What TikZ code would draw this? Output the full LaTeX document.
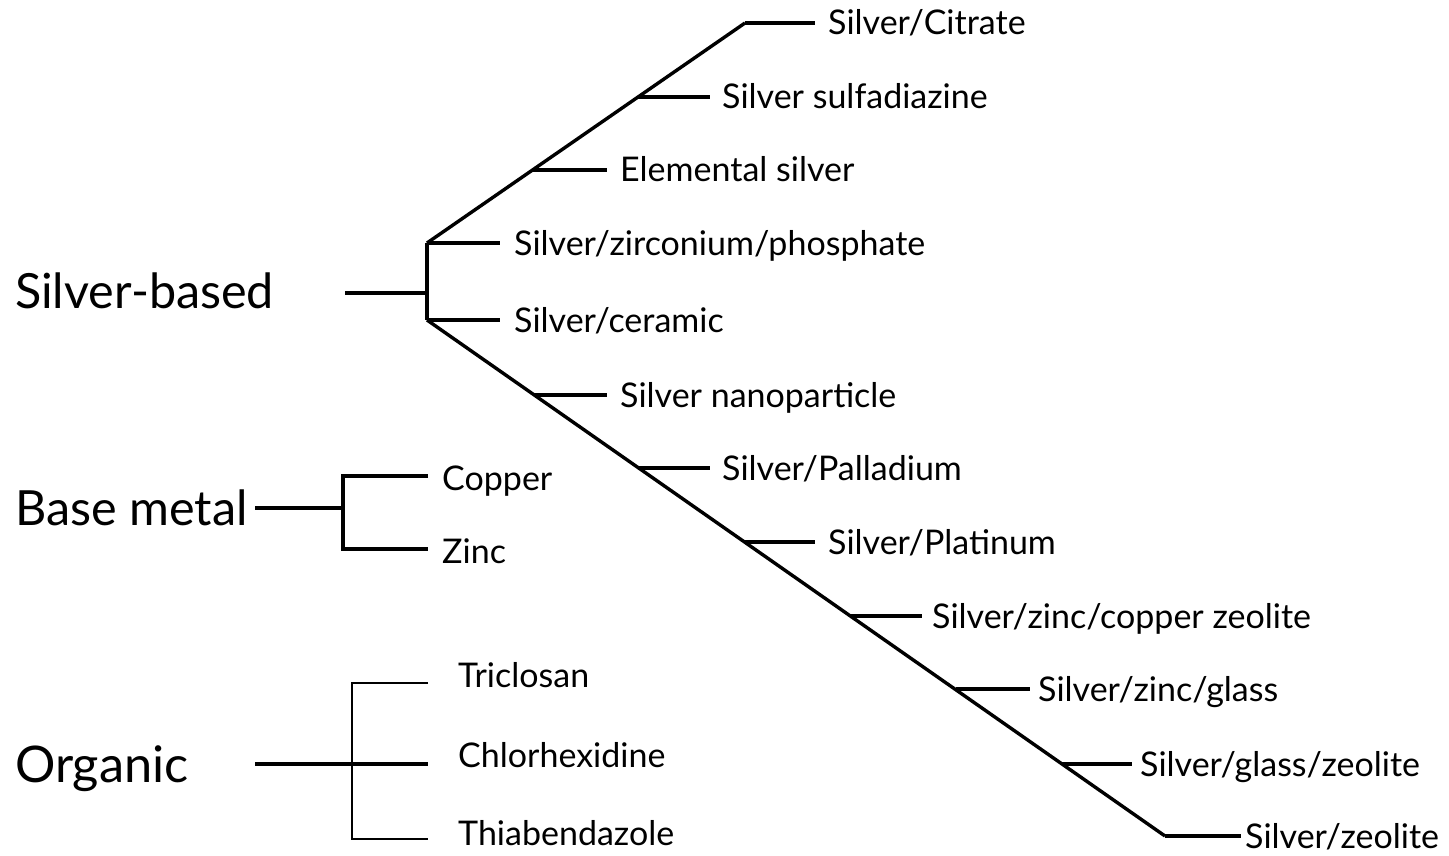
\documentclass[tikz,border=0pt]{standalone}
\usepackage{fontspec}
\setmainfont{Lato}
\begin{document}
\begin{tikzpicture}[x=1pt,y=-1pt,
  thk/.style={line width=3.4pt},
  thn/.style={line width=1.6pt},
  sm/.style={font=\fontsize{34}{40}\selectfont, anchor=west, inner sep=0pt, text height=24pt, text depth=0pt},
  smb/.style={font=\fontsize{34}{40}\selectfont, anchor=base west, inner sep=0pt},
  big/.style={font=\fontsize{48.5}{54}\selectfont, anchor=base west, inner sep=0pt}]
\useasboundingbox (0,0) rectangle (1449,856);
% Silver-based
\node[big] (sb) at (15,308) {Silver-based};
\coordinate (sbL) at (345,293);
\coordinate (sbJ) at (427,293);
\coordinate (jA) at (427,243);
\coordinate (jB) at (427,320);
\coordinate (top) at (745,23);
\coordinate (bot) at (1165,836);
\draw[thk] (sbL) -- (sbJ);
\draw[thk] (jA) -- (jB);
\draw[thk,line join=round] (jA) -- (top);
\draw[thk,line join=round] (jB) -- (bot);
\coordinate (j1) at (638,97);
\coordinate (j2) at (533,170);
\coordinate (j3) at (534,395);
\coordinate (j4) at (639,468);
\coordinate (j5) at (745,542);
\coordinate (j6) at (851,616);
\coordinate (j7) at (956,689);
\coordinate (j8) at (1062,764);
\node[sm] (l0) at (828,23) {Silver/Citrate};
\node[sm] (l1) at (722,97) {Silver sulfadiazine};
\node[sm] (l2) at (620,170) {Elemental silver};
\node[sm] (la) at (514,243) {Silver/zirconium/phosphate};
\node[sm] (lb) at (514,320) {Silver/ceramic};
\node[sm] (l3) at (620,395) {Silver nanoparticle};
\node[sm] (l4) at (722,468) {Silver/Palladium};
\node[sm] (l5) at (828,542) {Silver/Platinum};
\node[sm] (l6) at (932,616) {Silver/zinc/copper zeolite};
\node[sm] (l7) at (1038,689) {Silver/zinc/glass};
\node[sm] (l8) at (1140,764) {Silver/glass/zeolite};
\node[sm] (l9) at (1245,836) {Silver/zeolite};
\draw[thk] (top) -- ([xshift=-13pt]l0.west);
\draw[thk] (j1) -- ([xshift=-12pt]l1.west);
\draw[thk] (j2) -- ([xshift=-13pt]l2.west);
\draw[thk] (jA) -- ([xshift=-14pt]la.west);
\draw[thk] (jB) -- ([xshift=-14pt]lb.west);
\draw[thk] (j3) -- ([xshift=-13pt]l3.west);
\draw[thk] (j4) -- ([xshift=-12pt]l4.west);
\draw[thk] (j5) -- ([xshift=-13pt]l5.west);
\draw[thk] (j6) -- ([xshift=-10pt]l6.west);
\draw[thk] (j7) -- ([xshift=-8pt]l7.west);
\draw[thk] (j8) -- ([xshift=-8pt]l8.west);
\draw[thk] (bot) -- ([xshift=-4pt]l9.west);
% Base metal
\node[big] (bm) at (15,525) {Base metal};
\coordinate (bmL) at (255,508);
\coordinate (bmJ) at (343,508);
\coordinate (bmA) at (343,476);
\coordinate (bmB) at (343,549);
\node[smb] (cu) at (442,490) {Copper};
\node[smb] (zn) at (442,563) {Zinc};
\coordinate (cuE) at (428,476);
\coordinate (znE) at (428,549);
\draw[thk] (bmL) -- (bmJ);
\draw[thk,line join=miter] (cuE) -- (bmA) -- (bmB) -- (znE);
% Organic
\node[big,font=\fontsize{50.5}{56}\selectfont] (org) at (15,782) {Organic};
\coordinate (orL) at (255,764);
\coordinate (orE) at (428,764);
\coordinate (orA) at (352,683);
\coordinate (orB) at (352,839);
\coordinate (orAE) at (428,683);
\coordinate (orBE) at (428,839);
\node[smb] (tri) at (458,687) {Triclosan};
\node[smb] (chl) at (458,767) {Chlorhexidine};
\node[smb] (thi) at (458,845) {Thiabendazole};
\draw[thk] (orL) -- (orE);
\draw[thn] (orAE) -- (orA) -- (orB) -- (orBE);
\end{tikzpicture}
\end{document}
